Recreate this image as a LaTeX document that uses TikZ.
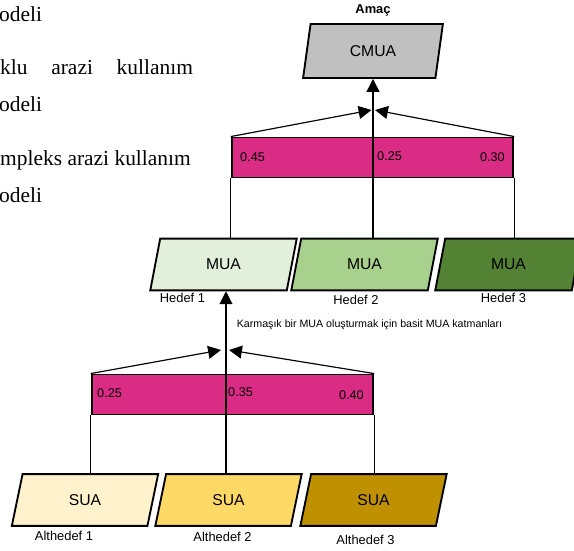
\documentclass[tikz,border=0pt]{standalone}
\usepackage{fontspec}
\setmainfont{Liberation Sans}
\newfontfamily\textserif{Liberation Serif}
\usetikzlibrary{shapes.geometric, arrows.meta}
\definecolor{cmuagray}{HTML}{C0C0C0}
\definecolor{weightpink}{HTML}{DA2C84}
\definecolor{muaA}{HTML}{E2EFDA}
\definecolor{muaB}{HTML}{A9D18E}
\definecolor{muaC}{HTML}{548235}
\definecolor{suaA}{HTML}{FFF2CC}
\definecolor{suaB}{HTML}{FFD966}
\definecolor{suaC}{HTML}{BF9000}

\begin{document}
\begin{tikzpicture}[x = 0.03cm, y = -0.03cm,
		box/.style = {trapezium, trapezium left angle = 76, trapezium right angle = 104, trapezium stretches = true, draw, line width = 1.6pt, inner sep = 0pt, minimum width = 4.4cm, minimum height = 1.55cm, font = \fontsize{13.4}{15}\selectfont},
		weights/.style = {rectangle, draw, line width = 1.6pt, fill = weightpink, minimum width = 8.45cm, minimum height = 1.2cm},
		wlabel/.style = {inner sep = 0pt, font = \fontsize{10.8}{12}\selectfont},
		caption/.style = {inner sep = 0pt, font = \fontsize{11}{12}\selectfont},
		link/.style = {line width = 1pt},
		arrowlink/.style = {link, -{Triangle[length = 11pt, width = 11pt]}},
		bodytext/.style = {inner sep = 0pt, anchor = base west, font = \textserif\fontsize{18.3}{20}\selectfont}]
		\useasboundingbox (0, 0) rectangle (574, 551);
		% text of the page beside the figure
		\node[bodytext] (t1) at (-1, 21) {odeli};
		\node[bodytext] (t2) at (0, 74) {\makebox[5.78cm][s]{klu arazi kullanım}};
		\node[bodytext] (t3) at (-1, 111) {odeli};
		\node[bodytext] (t4) at (0, 165) {mpleks arazi kullanım};
		\node[bodytext] (t5) at (-1, 202) {odeli};
		% goal
		\node[inner sep = 0pt, font = \bfseries\fontsize{11}{12}\selectfont] (goal) at (373, 10) {Amaç};
		\node[box, fill = cmuagray, minimum width = 4.2cm, minimum height = 1.62cm] (cmua) at (373, 51) {CMUA};
		% weight bars
		\node[weights] (wtop) at (372.5, 157.5) {};
		\node[weights] (wbot) at (232.5, 394.5) {};
		% objectives and sub-objectives
		\foreach \i/\x/\c in {1/223.5/muaA, 2/364.5/muaB, 3/508.5/muaC}
			\node[box, fill = \c] (mua\i) at (\x, 264.5) {MUA};
		\foreach \i/\x/\c in {1/85/suaA, 2/228.5/suaB, 3/373.5/suaC}
			\node[box, fill = \c] (sua\i) at (\x, 500) {SUA};
		\foreach \i/\x/\y in {1/182.5/298, 2/356/300, 3/503.5/298}
			\node[caption] (hedef\i) at (\x, \y) {Hedef \i};
		\foreach \i/\x/\y in {1/64/535.5, 2/222.5/536.5, 3/365.5/540}
			\node[caption] (althedef\i) at (\x, \y) {Althedef \i};
		\node[inner sep = 0pt, font = \fontsize{9.1}{10}\selectfont] (layers) at (369.5, 324.5) {Karmaşık bir MUA oluşturmak için basit MUA katmanları};
		% upper connectors
		\coordinate (tl) at (371.5, 110);
		\coordinate (tr) at (375, 110);
		\draw[link] (wtop.south west) -- (wtop.south west |- mua1.north);
		\draw[link] (wtop.south east) -- (wtop.south east |- mua3.north);
		\draw[arrowlink] (cmua.south |- mua2.north) -- (cmua.south);
		\draw[arrowlink] (wtop.north west) -- (tl);
		\draw[arrowlink] (wtop.north east) -- (tr);
		% lower connectors
		\coordinate (bmid) at (226, 350);
		\coordinate (bl) at (221, 350);
		\coordinate (br) at (229, 350);
		\draw[link] (wbot.south west) -- (wbot.south west |- sua1.north);
		\draw[link] (wbot.south east) -- (wbot.south east |- sua3.north);
		\draw[arrowlink] (bmid |- sua2.north) -- (bmid |- mua1.south);
		\draw[arrowlink] (wbot.north west) -- (bl);
		\draw[arrowlink] (wbot.north east) -- (br);
		% weights
		\node[wlabel, anchor = west] (w1) at (240, 157) {0.45};
		\node[wlabel, anchor = west] (w2) at (377, 156) {0.25};
		\node[wlabel, anchor = east] (w3) at (505, 157) {0.30};
		\node[wlabel, anchor = west] (w4) at (97, 393) {0.25};
		\node[wlabel, anchor = west] (w5) at (228, 392) {0.35};
		\node[wlabel, anchor = east] (w6) at (364, 395) {0.40};
	\end{tikzpicture}
\end{document}
